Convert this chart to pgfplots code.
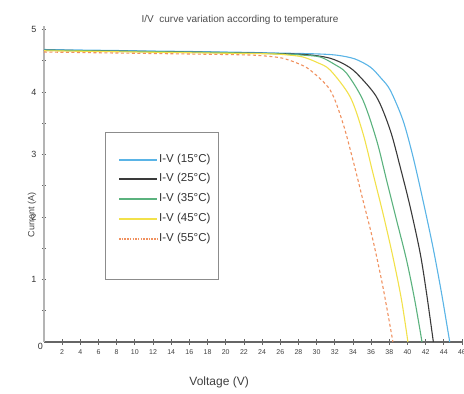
\documentclass[border=0pt]{standalone}
\usepackage{pgfplots}
\pgfplotsset{compat=1.18}
\usepackage{fontspec}
\setmainfont{Liberation Sans}
\definecolor{cblue}{HTML}{5AB4E6}
\definecolor{cblack}{HTML}{3A3A3A}
\definecolor{cgreen}{HTML}{5BB27E}
\definecolor{cyellow}{HTML}{F2E14A}
\definecolor{corange}{HTML}{F0915F}
\definecolor{yaxcol}{HTML}{B4B4B4}
\begin{document}
\begin{tikzpicture}[x=1pt,y=1pt]
\useasboundingbox (-44,-52) rectangle (420,342);
\begin{axis}[
  at={(0,0)}, anchor=south west,
  scale only axis, width=418pt, height=315.6pt,
  xmin=0, xmax=46, ymin=0, ymax=5.05,
  axis x line=bottom, axis y line=left,
  axis line style={-},
  x axis line style={draw=black!60, line width=1.2pt},
  y axis line style={draw=yaxcol, line width=2.5pt},
  xtick={2,4,...,46}, ytick={1,2,3,4,5},
  minor ytick={0.5,1.5,2.5,3.5,4.5},
  tick align=center, major tick length=5pt, minor tick length=4pt,
  tick style={draw=black!60, line width=0.8pt},
  /pgf/number format/assume math mode=true,
  xticklabel style={font=\fontsize{7}{8}\selectfont, text=black!75, inner sep=1pt, yshift=-4pt},
  yticklabel style={font=\fontsize{9}{10}\selectfont, text=black!80, inner sep=1pt, xshift=-4pt},
  xlabel={Voltage (V)},
  xlabel style={at={(axis description cs:0.419,0)}, anchor=center, yshift=-40pt, font=\fontsize{12}{13}\selectfont, text=black!75},
  clip=false,
]
\addplot[color=cblue, line width=1.1pt, smooth, tension=0.5] coordinates {
(0,4.68) (10,4.66) (20,4.64) (27,4.62) (30,4.61) (32.2,4.59) (34.2,4.53) (35.9,4.40) (37.1,4.22) (38.1,4.03) (39.5,3.55) (40.6,2.97) (41.7,2.27) (42.8,1.52) (43.75,0.78) (44.65,0)};
\addplot[color=cblack, line width=1.1pt, smooth, tension=0.5] coordinates {
(0,4.67) (10,4.65) (20,4.63) (27,4.61) (29.5,4.59) (31.5,4.54) (33.1,4.44) (34.4,4.30) (36.6,3.92) (38.1,3.39) (39.2,2.80) (40.3,2.16) (41.4,1.42) (42.1,0.78) (42.85,0)};
\addplot[color=cgreen, line width=1.1pt, smooth, tension=0.5] coordinates {
(0,4.67) (10,4.65) (20,4.63) (26,4.61) (28.5,4.59) (30.4,4.56) (32,4.44) (33.3,4.30) (35.1,3.87) (36.6,3.23) (37.7,2.59) (38.8,1.95) (39.9,1.31) (40.8,0.67) (41.6,0)};
\addplot[color=cyellow, line width=1.1pt, smooth, tension=0.5] coordinates {
(0,4.66) (10,4.64) (20,4.62) (25,4.61) (27,4.59) (28.5,4.56) (30.1,4.47) (31.5,4.35) (33.7,3.92) (35.1,3.34) (36.2,2.70) (37.3,2.06) (38.4,1.36) (39.35,0.67) (40.05,0)};
\addplot[color=corange, line width=1.1pt, dash pattern=on 3pt off 2.5pt, smooth, tension=0.5] coordinates {
(0,4.64) (10,4.62) (20,4.60) (23,4.59) (24.8,4.57) (26.3,4.54) (27.9,4.46) (29.3,4.35) (31.5,4.03) (32.9,3.50) (34.0,2.91) (35.1,2.27) (36.2,1.63) (37.3,0.88) (38.4,0)};
\node[anchor=north east, font=\fontsize{9}{10}\selectfont, text=black!80, inner sep=1pt] at (axis cs:0,0) {0};
\end{axis}
% legend
\draw[black!45, line width=1pt, fill=white] (61,209) rectangle (174,62);
\draw[cblue, line width=1.2pt] (75,182) -- (113,182);
\draw[cblack, line width=1.2pt] (75,163) -- (113,163);
\draw[cgreen, line width=1.2pt] (75,143) -- (113,143);
\draw[cyellow, line width=1.2pt] (75,123) -- (113,123);
\draw[corange, line width=1.1pt, dash pattern=on 1.5pt off 1.2pt] (75,103) -- (113,103);
\begin{scope}[every node/.style={anchor=west, inner sep=0pt, font=\fontsize{11.5}{12}\selectfont, text=black!80}]
\node at (115,182) {I-V (15°C)};
\node at (115,163) {I-V (25°C)};
\node at (115,143) {I-V (35°C)};
\node at (115,123) {I-V (45°C)};
\node at (115,103) {I-V (55°C)};
\end{scope}
\node[rotate=90, font=\fontsize{9}{10}\selectfont, text=black!75] at (-12,127) {Current (A)};
\node[font=\fontsize{10}{11}\selectfont, text=black!70] at (196,322) {I/V\ \ curve variation according to temperature};
\end{tikzpicture}
\end{document}
